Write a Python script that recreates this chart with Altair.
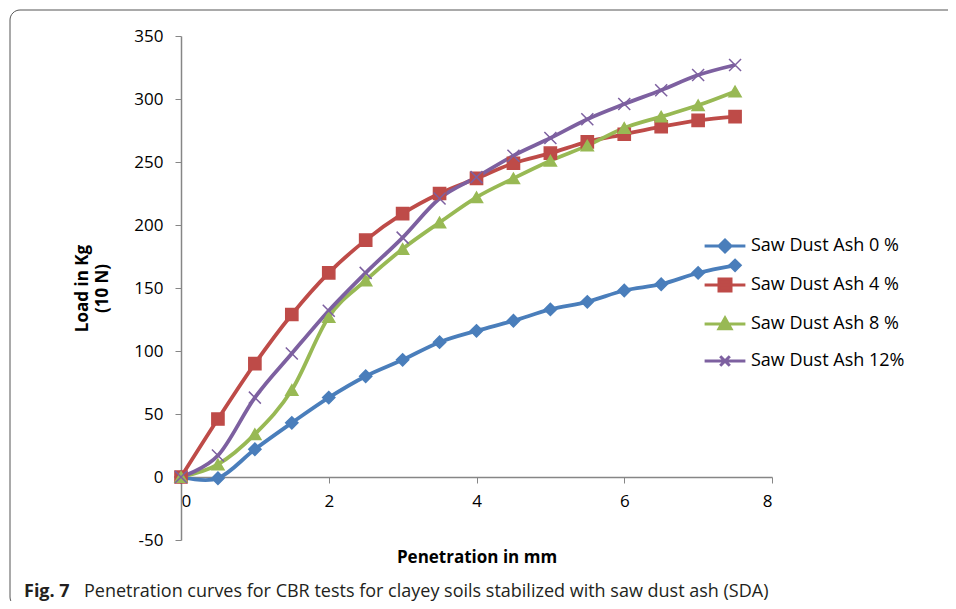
import altair as alt
import pandas as pd

penetration = [0, 0.5, 1, 1.5, 2, 2.5, 3, 3.5, 4, 4.5, 5, 5.5, 6, 6.5, 7, 7.5]
sda_0 = [0, -1, 22, 43, 63, 80, 93, 107, 116, 124, 133, 139, 148, 153, 162, 168]
sda_4 = [0, 46, 90, 129, 162, 188, 209, 225, 237, 249, 257, 266, 272, 278, 283, 286]
sda_8 = [0, 10, 34, 69, 127, 156, 181, 202, 222, 237, 251, 263, 277, 286, 295, 306]
sda_12 = [0, 17, 63, 98, 132, 162, 190, 221, 238, 255, 269, 284, 296, 307, 319, 327]

series_names = ["Saw Dust Ash 0 %", "Saw Dust Ash 4 %", "Saw Dust Ash 8 %", "Saw Dust Ash 12%"]
colors = ["#4A7EBB", "#BE4B48", "#98B954", "#7D60A0"]
x_ticks = [0, 2, 4, 6, 8]
y_ticks = [-50, 0, 50, 100, 150, 200, 250, 300, 350]
caption_bold = "Fig. 7"
caption_text = "Penetration curves for CBR tests for clayey soils stabilized with saw dust ash (SDA)"

rows = []
for name, vals in zip(series_names, [sda_0, sda_4, sda_8, sda_12]):
    for px, py in zip(penetration, vals):
        rows.append({"series": name, "pen": px, "load": py})
df = pd.DataFrame(rows)

W, H = 591, 504
LEFT, TOP = 181, 36  # plot origin on the page

marker_shapes = ["diamond", "square", "triangle-up", "M-1,-1L1,1M-1,1L1,-1"]
marker_sizes = [150, 144, 185, 130]
legend_shapes = [
    "M-3.4,0L3.4,0M-1,0L0,-1L1,0L0,1Z",
    "M-3.4,0L3.4,0M-1,-1L1,-1L1,1L-1,1Z",
    "M-3.4,0L3.4,0M0,-1L1,0.8L-1,0.8Z",
    "M-3.4,0L3.4,0M-0.8,-0.8L0.8,0.8M-0.8,0.8L0.8,-0.8",
]

x_enc = alt.X(
    "pen:Q",
    scale=alt.Scale(domain=[0, 8], nice=False),
    axis=alt.Axis(
        values=x_ticks, title="Penetration in mm", offset=-63,
        tickSize=6, labelPadding=10, titlePadding=40,
    ),
)
y_enc = alt.Y(
    "load:Q",
    scale=alt.Scale(domain=[-50, 350], nice=False),
    axis=alt.Axis(
        values=y_ticks, title=["Load in Kg", "(10 N)"], labelExpr="'' + datum.value",
        tickSize=6, labelPadding=12, titlePadding=22, titleLineHeight=20,
    ),
)
color_scale = alt.Scale(domain=series_names, range=colors)

base = alt.Chart(df)

lines = base.mark_line(interpolate="cardinal", strokeWidth=3.8).encode(
    x=x_enc, y=y_enc,
    color=alt.Color("series:N", scale=color_scale, legend=None),
)

points = base.mark_point(filled=True, strokeWidth=1.5, opacity=1).encode(
    x=x_enc, y=y_enc,
    color=alt.Color("series:N", scale=color_scale, legend=None),
    stroke=alt.Stroke("series:N", scale=color_scale, legend=None),
    shape=alt.Shape("series:N", scale=alt.Scale(domain=series_names, range=marker_shapes), legend=None),
    size=alt.Size("series:N", scale=alt.Scale(domain=series_names, range=marker_sizes), legend=None),
)

leg = dict(
    title=None, orient="none", legendX=535, legendY=201,
    labelFont="Open Sans", labelFontSize=18, labelColor="#000000",
    symbolStrokeWidth=3, symbolOpacity=1, labelOffset=17, rowPadding=15, labelLimit=400,
    symbolSize=144,
)
legend_layer = base.transform_filter("false").mark_point(
    filled=True, size=144, strokeWidth=3, opacity=1
).encode(
    x=x_enc, y=y_enc,
    color=alt.Color("series:N", scale=color_scale, legend=alt.Legend(**leg)),
    stroke=alt.Stroke("series:N", scale=color_scale, legend=alt.Legend(**leg)),
    shape=alt.Shape("series:N", scale=alt.Scale(domain=series_names, range=legend_shapes), legend=alt.Legend(**leg)),
)

one = pd.DataFrame({"a": [0]})
frame = alt.Chart(one).mark_rect(
    fillOpacity=0, stroke="#555555", strokeWidth=1,
    cornerRadiusTopLeft=10, cornerRadiusBottomLeft=10,
).encode(
    x=alt.value(10 - LEFT), x2=alt.value(990 - LEFT),
    y=alt.value(10 - TOP), y2=alt.value(607 - TOP),
)

cap1 = alt.Chart(pd.DataFrame({"t": [caption_bold]})).mark_text(
    align="left", baseline="alphabetic", font="Open Sans", fontSize=18,
    fontWeight="bold", color="#231F20",
).encode(text="t:N", x=alt.value(24 - LEFT), y=alt.value(597 - TOP))

cap2 = alt.Chart(pd.DataFrame({"t": [caption_text]})).mark_text(
    align="left", baseline="alphabetic", font="Open Sans", fontSize=18,
    color="#231F20",
).encode(text="t:N", x=alt.value(84 - LEFT), y=alt.value(597 - TOP))

chart = alt.layer(frame, lines, points, legend_layer, cap1, cap2).resolve_scale(
    color="independent", shape="independent", stroke="independent", size="independent"
).properties(
    width=W, height=H,
    padding={"left": 173, "top": 28, "right": 176, "bottom": 61},
    autosize=alt.AutoSizeParams(type="none"),
).configure_view(stroke=None).configure_axis(
    grid=False, domainColor="#868686", tickColor="#868686", domainWidth=1.5,
    labelFont="Open Sans", labelFontSize=17, labelColor="#000000",
    titleFont="Open Sans", titleFontSize=17, titleFontWeight="bold", titleColor="#000000",
)

chart.save("out.html", embed_options={"renderer": "svg", "actions": False})
